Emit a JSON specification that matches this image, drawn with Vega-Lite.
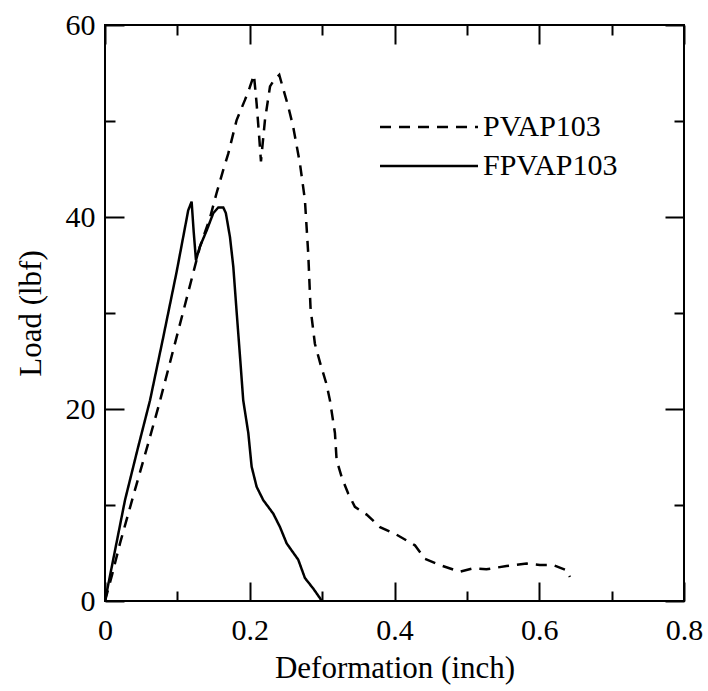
{
  "$schema": "https://vega.github.io/schema/vega-lite/v6.json",
  "autosize": {"type": "none"},
  "padding": {"left": 105, "top": 25, "right": 24, "bottom": 90},
  "width": 579,
  "height": 576,
  "background": "white",
  "config": {
    "font": "Liberation Serif",
    "view": {"stroke": "black", "strokeWidth": 2},
    "axis": {"domain": false, "grid": false, "labelColor": "black", "titleColor": "black", "tickColor": "black", "tickWidth": 2, "titleFontWeight": "normal", "labelFontSize": 30, "titleFontSize": 31}
  },
  "datasets": {
    "curves": [
      {"series": "PVAP103", "x": 0, "y": 0},
      {"series": "PVAP103", "x": 0.01, "y": 2.8},
      {"series": "PVAP103", "x": 0.0207, "y": 6.0},
      {"series": "PVAP103", "x": 0.04, "y": 11.2},
      {"series": "PVAP103", "x": 0.06, "y": 16.5},
      {"series": "PVAP103", "x": 0.0737, "y": 20.2},
      {"series": "PVAP103", "x": 0.09, "y": 24.9},
      {"series": "PVAP103", "x": 0.11, "y": 30.7},
      {"series": "PVAP103", "x": 0.1312, "y": 36.9},
      {"series": "PVAP103", "x": 0.145, "y": 39.9},
      {"series": "PVAP103", "x": 0.1542, "y": 42.5},
      {"series": "PVAP103", "x": 0.1634, "y": 44.9},
      {"series": "PVAP103", "x": 0.1703, "y": 46.6},
      {"series": "PVAP103", "x": 0.1819, "y": 50.1},
      {"series": "PVAP103", "x": 0.1934, "y": 52.2},
      {"series": "PVAP103", "x": 0.2, "y": 53.5},
      {"series": "PVAP103", "x": 0.2058, "y": 54.8},
      {"series": "PVAP103", "x": 0.2095, "y": 51.8},
      {"series": "PVAP103", "x": 0.213, "y": 48.4},
      {"series": "PVAP103", "x": 0.2155, "y": 45.8},
      {"series": "PVAP103", "x": 0.221, "y": 50.1},
      {"series": "PVAP103", "x": 0.228, "y": 53.6},
      {"series": "PVAP103", "x": 0.233, "y": 54.2},
      {"series": "PVAP103", "x": 0.2408, "y": 54.8},
      {"series": "PVAP103", "x": 0.2532, "y": 51.5},
      {"series": "PVAP103", "x": 0.26, "y": 49.4},
      {"series": "PVAP103", "x": 0.2693, "y": 45.6},
      {"series": "PVAP103", "x": 0.2762, "y": 41.8},
      {"series": "PVAP103", "x": 0.2808, "y": 36.2},
      {"series": "PVAP103", "x": 0.284, "y": 30.5},
      {"series": "PVAP103", "x": 0.29, "y": 26.8},
      {"series": "PVAP103", "x": 0.298, "y": 24.6},
      {"series": "PVAP103", "x": 0.306, "y": 22.6},
      {"series": "PVAP103", "x": 0.3108, "y": 20.9},
      {"series": "PVAP103", "x": 0.3177, "y": 17.5},
      {"series": "PVAP103", "x": 0.32, "y": 14.7},
      {"series": "PVAP103", "x": 0.327, "y": 12.9},
      {"series": "PVAP103", "x": 0.336, "y": 11.2},
      {"series": "PVAP103", "x": 0.3453, "y": 9.8},
      {"series": "PVAP103", "x": 0.3615, "y": 9.0},
      {"series": "PVAP103", "x": 0.38, "y": 7.7},
      {"series": "PVAP103", "x": 0.403, "y": 6.9},
      {"series": "PVAP103", "x": 0.4282, "y": 5.8},
      {"series": "PVAP103", "x": 0.442, "y": 4.4},
      {"series": "PVAP103", "x": 0.4627, "y": 3.75},
      {"series": "PVAP103", "x": 0.4903, "y": 3.05},
      {"series": "PVAP103", "x": 0.5087, "y": 3.4},
      {"series": "PVAP103", "x": 0.527, "y": 3.3},
      {"series": "PVAP103", "x": 0.5548, "y": 3.65},
      {"series": "PVAP103", "x": 0.5825, "y": 3.9},
      {"series": "PVAP103", "x": 0.6008, "y": 3.75},
      {"series": "PVAP103", "x": 0.619, "y": 3.75},
      {"series": "PVAP103", "x": 0.6377, "y": 3.2},
      {"series": "PVAP103", "x": 0.6423, "y": 2.5},
      {"series": "FPVAP103", "x": 0, "y": 0},
      {"series": "FPVAP103", "x": 0.0276, "y": 10.5},
      {"series": "FPVAP103", "x": 0.045, "y": 15.8},
      {"series": "FPVAP103", "x": 0.0622, "y": 20.9},
      {"series": "FPVAP103", "x": 0.08, "y": 27.3},
      {"series": "FPVAP103", "x": 0.099, "y": 34.3},
      {"series": "FPVAP103", "x": 0.108, "y": 37.9},
      {"series": "FPVAP103", "x": 0.115, "y": 40.7},
      {"series": "FPVAP103", "x": 0.1197, "y": 41.6},
      {"series": "FPVAP103", "x": 0.1225, "y": 38.5},
      {"series": "FPVAP103", "x": 0.1257, "y": 35.5},
      {"series": "FPVAP103", "x": 0.131, "y": 36.9},
      {"series": "FPVAP103", "x": 0.1405, "y": 38.6},
      {"series": "FPVAP103", "x": 0.1496, "y": 40.4},
      {"series": "FPVAP103", "x": 0.1565, "y": 41.0},
      {"series": "FPVAP103", "x": 0.1634, "y": 41.0},
      {"series": "FPVAP103", "x": 0.167, "y": 40.4},
      {"series": "FPVAP103", "x": 0.1727, "y": 37.9},
      {"series": "FPVAP103", "x": 0.1773, "y": 34.8},
      {"series": "FPVAP103", "x": 0.182, "y": 30.0},
      {"series": "FPVAP103", "x": 0.187, "y": 25.0},
      {"series": "FPVAP103", "x": 0.191, "y": 20.9},
      {"series": "FPVAP103", "x": 0.198, "y": 17.5},
      {"series": "FPVAP103", "x": 0.2026, "y": 14.0},
      {"series": "FPVAP103", "x": 0.2095, "y": 11.9},
      {"series": "FPVAP103", "x": 0.2187, "y": 10.5},
      {"series": "FPVAP103", "x": 0.2325, "y": 9.1},
      {"series": "FPVAP103", "x": 0.2418, "y": 7.7},
      {"series": "FPVAP103", "x": 0.251, "y": 6.0},
      {"series": "FPVAP103", "x": 0.267, "y": 4.3},
      {"series": "FPVAP103", "x": 0.2762, "y": 2.4},
      {"series": "FPVAP103", "x": 0.2877, "y": 1.3},
      {"series": "FPVAP103", "x": 0.297, "y": 0.3},
      {"series": "FPVAP103", "x": 0.2993, "y": 0}
    ]
  },
  "layer": [
    {
      "data": {"name": "curves"},
      "mark": {"type": "line", "color": "black", "strokeWidth": 2.5, "clip": true},
      "encoding": {
        "x": {
          "field": "x", "type": "quantitative",
          "scale": {"domain": [0, 0.8], "nice": false, "zero": false},
          "axis": {
            "orient": "bottom",
            "title": "Deformation (inch)",
            "values": [0, 0.1, 0.2, 0.3, 0.4, 0.5, 0.6, 0.7, 0.8],
            "format": "~g",
            "labelExpr": "round(datum.value*10) % 2 == 0 ? datum.label : ''",
            "tickSize": {"condition": {"test": "round(datum.value*10) % 2 == 0", "value": -19}, "value": -10},
            "labelPadding": 33,
            "labelFlush": false,
            "titlePadding": 8
          }
        },
        "y": {
          "field": "y", "type": "quantitative",
          "scale": {"domain": [0, 60], "nice": false},
          "axis": {
            "orient": "left",
            "title": "Load (lbf)",
            "values": [0, 10, 20, 30, 40, 50, 60],
            "labelExpr": "datum.value % 20 == 0 ? datum.label : ''",
            "tickSize": {"condition": {"test": "datum.value % 20 == 0", "value": -19}, "value": -10},
            "labelPadding": 29,
            "labelFlush": false,
            "titlePadding": 18
          }
        },
        "strokeDash": {
          "field": "series", "type": "nominal",
          "scale": {"domain": ["PVAP103", "FPVAP103"], "range": [[11, 8], [1, 0]]},
          "legend": {
            "orient": "none", "legendX": 309, "legendY": 87,
            "title": null, "symbolType": "M-10,0H10", "symbolSize": 96,
            "symbolStrokeWidth": 2.5, "symbolStrokeColor": "black",
            "labelFontSize": 30, "labelColor": "black", "labelOffset": 39,
            "rowPadding": 9
          }
        }
      }
    },
    {
      "mark": {"type": "text", "fontSize": 30, "align": "right", "baseline": "middle", "color": "black"},
      "encoding": {
        "x": {"datum": 0.778, "type": "quantitative", "axis": null},
        "y": {"datum": 51.8, "type": "quantitative", "axis": null},
        "text": {"value": "(c)"}
      }
    },
    {
      "data": {"name": "curves"},
      "mark": {"type": "line", "opacity": 0},
      "encoding": {
        "x": {
          "field": "x", "type": "quantitative",
          "axis": {
            "orient": "top", "title": null, "labels": false,
            "values": [0, 0.1, 0.2, 0.3, 0.4, 0.5, 0.6, 0.7, 0.8],
            "tickSize": {"condition": {"test": "round(datum.value*10) % 2 == 0", "value": -19}, "value": -10}
          }
        },
        "y": {
          "field": "y", "type": "quantitative",
          "axis": {
            "orient": "right", "title": null, "labels": false,
            "values": [0, 10, 20, 30, 40, 50, 60],
            "tickSize": {"condition": {"test": "datum.value % 20 == 0", "value": -19}, "value": -10}
          }
        },
        "detail": {"field": "series"}
      }
    }
  ],
  "resolve": {"axis": {"x": "independent", "y": "independent"}}
}
